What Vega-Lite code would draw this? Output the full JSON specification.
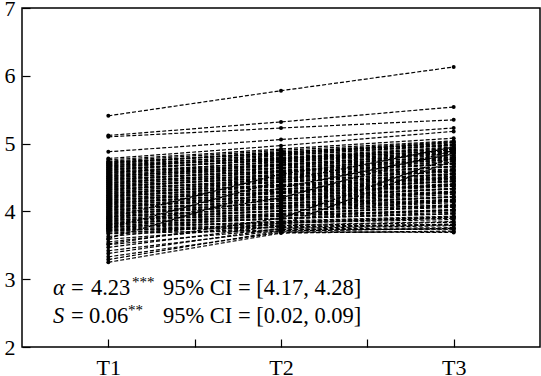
{
"$schema":"https://vega.github.io/schema/vega-lite/v6.json",
"width":518,"height":339,
"autosize":{"type":"none"},
"padding":{"left":22,"top":8,"right":1,"bottom":29},
"background":"white",
"config":{"view":{"stroke":"black","strokeWidth":1.5},"font":"Liberation Serif"},
"datasets":{
"ann":[
{"p":"sym","x":0.6795,"y":2.767,"s":"α"},
{"p":"n","x":0.7838,"y":2.767,"s":"="},
{"p":"n","x":0.8996,"y":2.767,"s":"4.23"},
{"p":"sup","x":1.137,"y":2.89,"s":"***"},
{"p":"n","x":1.3166,"y":2.767,"s":"95% CI = [4.17, 4.28]"},
{"p":"sym","x":0.6795,"y":2.354,"s":"S"},
{"p":"n","x":0.7838,"y":2.354,"s":"="},
{"p":"n","x":0.888,"y":2.354,"s":"0.06"},
{"p":"sup","x":1.114,"y":2.465,"s":"**"},
{"p":"n","x":1.3166,"y":2.354,"s":"95% CI = [0.02, 0.09]"}
],
"d":[
{"i":1,"t":1,"v":5.41},{"i":1,"t":2,"v":5.78},{"i":1,"t":3,"v":6.13},
{"i":2,"t":1,"v":5.12},{"i":2,"t":2,"v":5.32},{"i":2,"t":3,"v":5.54},
{"i":3,"t":1,"v":5.10},{"i":3,"t":2,"v":5.23},{"i":3,"t":3,"v":5.35},
{"i":4,"t":1,"v":4.88},{"i":4,"t":2,"v":5.06},{"i":4,"t":3,"v":5.23},
{"i":5,"t":1,"v":4.78},{"i":5,"t":2,"v":4.97},{"i":5,"t":3,"v":5.18},
{"i":6,"t":1,"v":4.76},{"i":6,"t":2,"v":4.92},{"i":6,"t":3,"v":5.08},
{"i":7,"t":1,"v":4.74},{"i":7,"t":2,"v":4.90},{"i":7,"t":3,"v":5.04},
{"i":8,"t":1,"v":4.72},{"i":8,"t":2,"v":4.86},{"i":8,"t":3,"v":5.01},
{"i":9,"t":1,"v":4.71},{"i":9,"t":2,"v":4.88},{"i":9,"t":3,"v":4.99},
{"i":10,"t":1,"v":4.69},{"i":10,"t":2,"v":4.83},{"i":10,"t":3,"v":4.97},
{"i":11,"t":1,"v":4.67},{"i":11,"t":2,"v":4.84},{"i":11,"t":3,"v":5.02},
{"i":12,"t":1,"v":4.66},{"i":12,"t":2,"v":4.79},{"i":12,"t":3,"v":4.92},
{"i":13,"t":1,"v":4.64},{"i":13,"t":2,"v":4.80},{"i":13,"t":3,"v":4.95},
{"i":14,"t":1,"v":4.62},{"i":14,"t":2,"v":4.76},{"i":14,"t":3,"v":4.90},
{"i":15,"t":1,"v":4.61},{"i":15,"t":2,"v":4.78},{"i":15,"t":3,"v":4.94},
{"i":16,"t":1,"v":4.59},{"i":16,"t":2,"v":4.72},{"i":16,"t":3,"v":4.86},
{"i":17,"t":1,"v":4.57},{"i":17,"t":2,"v":4.73},{"i":17,"t":3,"v":4.88},
{"i":18,"t":1,"v":4.55},{"i":18,"t":2,"v":4.70},{"i":18,"t":3,"v":4.83},
{"i":19,"t":1,"v":4.54},{"i":19,"t":2,"v":4.68},{"i":19,"t":3,"v":4.85},
{"i":20,"t":1,"v":4.52},{"i":20,"t":2,"v":4.67},{"i":20,"t":3,"v":4.80},
{"i":21,"t":1,"v":4.50},{"i":21,"t":2,"v":4.64},{"i":21,"t":3,"v":4.78},
{"i":22,"t":1,"v":4.49},{"i":22,"t":2,"v":4.65},{"i":22,"t":3,"v":4.82},
{"i":23,"t":1,"v":4.47},{"i":23,"t":2,"v":4.60},{"i":23,"t":3,"v":4.74},
{"i":24,"t":1,"v":4.45},{"i":24,"t":2,"v":4.61},{"i":24,"t":3,"v":4.76},
{"i":25,"t":1,"v":4.44},{"i":25,"t":2,"v":4.57},{"i":25,"t":3,"v":4.70},
{"i":26,"t":1,"v":4.42},{"i":26,"t":2,"v":4.58},{"i":26,"t":3,"v":4.73},
{"i":27,"t":1,"v":4.40},{"i":27,"t":2,"v":4.53},{"i":27,"t":3,"v":4.66},
{"i":28,"t":1,"v":4.39},{"i":28,"t":2,"v":4.55},{"i":28,"t":3,"v":4.71},
{"i":29,"t":1,"v":4.37},{"i":29,"t":2,"v":4.50},{"i":29,"t":3,"v":4.63},
{"i":30,"t":1,"v":4.35},{"i":30,"t":2,"v":4.51},{"i":30,"t":3,"v":4.67},
{"i":31,"t":1,"v":4.34},{"i":31,"t":2,"v":4.46},{"i":31,"t":3,"v":4.58},
{"i":32,"t":1,"v":4.32},{"i":32,"t":2,"v":4.47},{"i":32,"t":3,"v":4.62},
{"i":33,"t":1,"v":4.30},{"i":33,"t":2,"v":4.43},{"i":33,"t":3,"v":4.55},
{"i":34,"t":1,"v":4.29},{"i":34,"t":2,"v":4.44},{"i":34,"t":3,"v":4.60},
{"i":35,"t":1,"v":4.27},{"i":35,"t":2,"v":4.39},{"i":35,"t":3,"v":4.52},
{"i":36,"t":1,"v":4.25},{"i":36,"t":2,"v":4.40},{"i":36,"t":3,"v":4.54},
{"i":37,"t":1,"v":4.24},{"i":37,"t":2,"v":4.36},{"i":37,"t":3,"v":4.48},
{"i":38,"t":1,"v":4.22},{"i":38,"t":2,"v":4.37},{"i":38,"t":3,"v":4.51},
{"i":39,"t":1,"v":4.20},{"i":39,"t":2,"v":4.32},{"i":39,"t":3,"v":4.45},
{"i":40,"t":1,"v":4.19},{"i":40,"t":2,"v":4.33},{"i":40,"t":3,"v":4.47},
{"i":41,"t":1,"v":4.17},{"i":41,"t":2,"v":4.29},{"i":41,"t":3,"v":4.41},
{"i":42,"t":1,"v":4.15},{"i":42,"t":2,"v":4.30},{"i":42,"t":3,"v":4.44},
{"i":43,"t":1,"v":4.14},{"i":43,"t":2,"v":4.26},{"i":43,"t":3,"v":4.38},
{"i":44,"t":1,"v":4.12},{"i":44,"t":2,"v":4.27},{"i":44,"t":3,"v":4.40},
{"i":45,"t":1,"v":4.10},{"i":45,"t":2,"v":4.22},{"i":45,"t":3,"v":4.34},
{"i":46,"t":1,"v":4.09},{"i":46,"t":2,"v":4.23},{"i":46,"t":3,"v":4.37},
{"i":47,"t":1,"v":4.07},{"i":47,"t":2,"v":4.19},{"i":47,"t":3,"v":4.30},
{"i":48,"t":1,"v":4.05},{"i":48,"t":2,"v":4.20},{"i":48,"t":3,"v":4.33},
{"i":49,"t":1,"v":4.04},{"i":49,"t":2,"v":4.15},{"i":49,"t":3,"v":4.27},
{"i":50,"t":1,"v":4.02},{"i":50,"t":2,"v":4.16},{"i":50,"t":3,"v":4.29},
{"i":51,"t":1,"v":4.00},{"i":51,"t":2,"v":4.11},{"i":51,"t":3,"v":4.22},
{"i":52,"t":1,"v":3.99},{"i":52,"t":2,"v":4.12},{"i":52,"t":3,"v":4.25},
{"i":53,"t":1,"v":3.97},{"i":53,"t":2,"v":4.08},{"i":53,"t":3,"v":4.18},
{"i":54,"t":1,"v":3.95},{"i":54,"t":2,"v":4.09},{"i":54,"t":3,"v":4.21},
{"i":55,"t":1,"v":3.94},{"i":55,"t":2,"v":4.04},{"i":55,"t":3,"v":4.15},
{"i":56,"t":1,"v":3.92},{"i":56,"t":2,"v":4.05},{"i":56,"t":3,"v":4.17},
{"i":57,"t":1,"v":3.90},{"i":57,"t":2,"v":4.00},{"i":57,"t":3,"v":4.10},
{"i":58,"t":1,"v":3.89},{"i":58,"t":2,"v":4.01},{"i":58,"t":3,"v":4.13},
{"i":59,"t":1,"v":3.87},{"i":59,"t":2,"v":3.97},{"i":59,"t":3,"v":4.06},
{"i":60,"t":1,"v":3.85},{"i":60,"t":2,"v":3.97},{"i":60,"t":3,"v":4.08},
{"i":61,"t":1,"v":3.84},{"i":61,"t":2,"v":3.93},{"i":61,"t":3,"v":4.01},
{"i":62,"t":1,"v":3.82},{"i":62,"t":2,"v":3.93},{"i":62,"t":3,"v":4.03},
{"i":63,"t":1,"v":3.80},{"i":63,"t":2,"v":3.89},{"i":63,"t":3,"v":3.97},
{"i":64,"t":1,"v":3.79},{"i":64,"t":2,"v":3.89},{"i":64,"t":3,"v":3.99},
{"i":65,"t":1,"v":3.77},{"i":65,"t":2,"v":3.85},{"i":65,"t":3,"v":3.92},
{"i":66,"t":1,"v":3.75},{"i":66,"t":2,"v":3.84},{"i":66,"t":3,"v":3.91},
{"i":67,"t":1,"v":3.74},{"i":67,"t":2,"v":3.80},{"i":67,"t":3,"v":3.85},
{"i":68,"t":1,"v":3.72},{"i":68,"t":2,"v":3.76},{"i":68,"t":3,"v":3.80},
{"i":69,"t":1,"v":3.25},{"i":69,"t":2,"v":3.68},{"i":69,"t":3,"v":3.71},
{"i":70,"t":1,"v":3.29},{"i":70,"t":2,"v":3.71},{"i":70,"t":3,"v":3.75},
{"i":71,"t":1,"v":3.33},{"i":71,"t":2,"v":3.69},{"i":71,"t":3,"v":3.70},
{"i":72,"t":1,"v":3.38},{"i":72,"t":2,"v":3.75},{"i":72,"t":3,"v":3.79},
{"i":73,"t":1,"v":3.42},{"i":73,"t":2,"v":3.72},{"i":73,"t":3,"v":3.74},
{"i":74,"t":1,"v":3.47},{"i":74,"t":2,"v":3.79},{"i":74,"t":3,"v":3.84},
{"i":75,"t":1,"v":3.51},{"i":75,"t":2,"v":3.74},{"i":75,"t":3,"v":3.76},
{"i":76,"t":1,"v":3.55},{"i":76,"t":2,"v":3.83},{"i":76,"t":3,"v":3.90},
{"i":77,"t":1,"v":3.59},{"i":77,"t":2,"v":3.78},{"i":77,"t":3,"v":3.81},
{"i":78,"t":1,"v":3.63},{"i":78,"t":2,"v":3.86},{"i":78,"t":3,"v":3.93},
{"i":79,"t":1,"v":3.67},{"i":79,"t":2,"v":3.73},{"i":79,"t":3,"v":3.74},
{"i":80,"t":1,"v":3.70},{"i":80,"t":2,"v":3.70},{"i":80,"t":3,"v":3.69},
{"i":81,"t":1,"v":3.60},{"i":81,"t":2,"v":4.35},{"i":81,"t":3,"v":4.85},
{"i":82,"t":1,"v":3.75},{"i":82,"t":2,"v":4.45},{"i":82,"t":3,"v":4.95},
{"i":83,"t":1,"v":3.52},{"i":83,"t":2,"v":3.90},{"i":83,"t":3,"v":4.80},
{"i":84,"t":1,"v":3.80},{"i":84,"t":2,"v":4.20},{"i":84,"t":3,"v":4.90},
{"i":85,"t":1,"v":3.68},{"i":85,"t":2,"v":3.80},{"i":85,"t":3,"v":4.75},
{"i":86,"t":1,"v":3.90},{"i":86,"t":2,"v":4.55},{"i":86,"t":3,"v":4.92},
{"i":87,"t":1,"v":4.73},{"i":87,"t":2,"v":4.85},{"i":87,"t":3,"v":4.98},
{"i":88,"t":1,"v":4.70},{"i":88,"t":2,"v":4.87},{"i":88,"t":3,"v":5.03},
{"i":89,"t":1,"v":4.68},{"i":89,"t":2,"v":4.78},{"i":89,"t":3,"v":4.89},
{"i":90,"t":1,"v":4.65},{"i":90,"t":2,"v":4.82},{"i":90,"t":3,"v":4.98},
{"i":91,"t":1,"v":4.63},{"i":91,"t":2,"v":4.75},{"i":91,"t":3,"v":4.87},
{"i":92,"t":1,"v":4.60},{"i":92,"t":2,"v":4.77},{"i":92,"t":3,"v":4.93},
{"i":93,"t":1,"v":4.58},{"i":93,"t":2,"v":4.69},{"i":93,"t":3,"v":4.80},
{"i":94,"t":1,"v":4.56},{"i":94,"t":2,"v":4.74},{"i":94,"t":3,"v":4.91},
{"i":95,"t":1,"v":4.53},{"i":95,"t":2,"v":4.64},{"i":95,"t":3,"v":4.76},
{"i":96,"t":1,"v":4.51},{"i":96,"t":2,"v":4.69},{"i":96,"t":3,"v":4.86},
{"i":97,"t":1,"v":4.48},{"i":97,"t":2,"v":4.59},{"i":97,"t":3,"v":4.70},
{"i":98,"t":1,"v":4.46},{"i":98,"t":2,"v":4.63},{"i":98,"t":3,"v":4.79},
{"i":99,"t":1,"v":4.43},{"i":99,"t":2,"v":4.54},{"i":99,"t":3,"v":4.66},
{"i":100,"t":1,"v":4.41},{"i":100,"t":2,"v":4.59},{"i":100,"t":3,"v":4.77},
{"i":101,"t":1,"v":4.38},{"i":101,"t":2,"v":4.49},{"i":101,"t":3,"v":4.60},
{"i":102,"t":1,"v":4.36},{"i":102,"t":2,"v":4.53},{"i":102,"t":3,"v":4.70},
{"i":103,"t":1,"v":4.33},{"i":103,"t":2,"v":4.44},{"i":103,"t":3,"v":4.55},
{"i":104,"t":1,"v":4.31},{"i":104,"t":2,"v":4.49},{"i":104,"t":3,"v":4.66},
{"i":105,"t":1,"v":4.28},{"i":105,"t":2,"v":4.38},{"i":105,"t":3,"v":4.49},
{"i":106,"t":1,"v":4.26},{"i":106,"t":2,"v":4.43},{"i":106,"t":3,"v":4.60},
{"i":107,"t":1,"v":4.23},{"i":107,"t":2,"v":4.33},{"i":107,"t":3,"v":4.44},
{"i":108,"t":1,"v":4.21},{"i":108,"t":2,"v":4.39},{"i":108,"t":3,"v":4.56},
{"i":109,"t":1,"v":4.18},{"i":109,"t":2,"v":4.28},{"i":109,"t":3,"v":4.38},
{"i":110,"t":1,"v":4.16},{"i":110,"t":2,"v":4.33},{"i":110,"t":3,"v":4.50},
{"i":111,"t":1,"v":4.13},{"i":111,"t":2,"v":4.23},{"i":111,"t":3,"v":4.33},
{"i":112,"t":1,"v":4.11},{"i":112,"t":2,"v":4.28},{"i":112,"t":3,"v":4.45},
{"i":113,"t":1,"v":4.08},{"i":113,"t":2,"v":4.18},{"i":113,"t":3,"v":4.28},
{"i":114,"t":1,"v":4.06},{"i":114,"t":2,"v":4.23},{"i":114,"t":3,"v":4.40},
{"i":115,"t":1,"v":4.03},{"i":115,"t":2,"v":4.12},{"i":115,"t":3,"v":4.21},
{"i":116,"t":1,"v":4.01},{"i":116,"t":2,"v":4.18},{"i":116,"t":3,"v":4.34},
{"i":117,"t":1,"v":3.98},{"i":117,"t":2,"v":4.07},{"i":117,"t":3,"v":4.16},
{"i":118,"t":1,"v":3.96},{"i":118,"t":2,"v":4.12},{"i":118,"t":3,"v":4.28},
{"i":119,"t":1,"v":3.93},{"i":119,"t":2,"v":4.01},{"i":119,"t":3,"v":4.09},
{"i":120,"t":1,"v":3.91},{"i":120,"t":2,"v":4.07},{"i":120,"t":3,"v":4.22},
{"i":121,"t":1,"v":3.88},{"i":121,"t":2,"v":3.95},{"i":121,"t":3,"v":4.02},
{"i":122,"t":1,"v":3.86},{"i":122,"t":2,"v":4.01},{"i":122,"t":3,"v":4.15},
{"i":123,"t":1,"v":3.83},{"i":123,"t":2,"v":3.90},{"i":123,"t":3,"v":3.96},
{"i":124,"t":1,"v":3.81},{"i":124,"t":2,"v":3.95},{"i":124,"t":3,"v":4.08},
{"i":125,"t":1,"v":3.78},{"i":125,"t":2,"v":3.83},{"i":125,"t":3,"v":3.88},
{"i":126,"t":1,"v":3.76},{"i":126,"t":2,"v":3.90},{"i":126,"t":3,"v":4.02},
{"i":127,"t":1,"v":3.73},{"i":127,"t":2,"v":3.77},{"i":127,"t":3,"v":3.81},
{"i":128,"t":1,"v":3.71},{"i":128,"t":2,"v":3.82},{"i":128,"t":3,"v":3.92}
]},
"layer":[
{"data":{"name":"d"},
 "mark":{"type":"line","color":"black","strokeWidth":1.2,"strokeDash":[4,2]},
 "encoding":{
  "x":{"field":"t","type":"quantitative","scale":{"domain":[0.5,3.5],"nice":false,"zero":false},
   "axis":{"title":null,"values":[1,1.5,2,2.5,3],"labelExpr":"datum.value==1?'T1':datum.value==2?'T2':datum.value==3?'T3':''","grid":false,"domain":false,"tickSize":-8,"tickColor":"black","tickWidth":1.2,"labelPadding":18,"labelFontSize":22,"labelFont":"Liberation Serif","labelColor":"black","labelFlush":false,"labelOverlap":false}},
  "y":{"field":"v","type":"quantitative","scale":{"domain":[2,7],"nice":false,"zero":false},
   "axis":{"title":null,"values":[2,3,4,5,6,7],"format":"d","grid":false,"domain":false,"tickSize":-8,"tickColor":"black","tickWidth":1.2,"labelPadding":15,"labelFontSize":22,"labelFont":"Liberation Serif","labelColor":"black","labelFlush":false,"labelOverlap":false}},
  "detail":{"field":"i","type":"nominal"}}},
{"data":{"name":"d"},
 "mark":{"type":"circle","color":"black","size":16,"opacity":1},
 "encoding":{"x":{"field":"t","type":"quantitative"},"y":{"field":"v","type":"quantitative"}}},
{"data":{"name":"ann"},"transform":[{"filter":"datum.p=='sym'"}],
 "mark":{"type":"text","align":"left","baseline":"alphabetic","fontSize":22.5,"fontStyle":"italic","font":"Liberation Serif","color":"black"},
 "encoding":{"x":{"field":"x","type":"quantitative"},"y":{"field":"y","type":"quantitative"},"text":{"field":"s"}}},
{"data":{"name":"ann"},"transform":[{"filter":"datum.p=='n'"}],
 "mark":{"type":"text","align":"left","baseline":"alphabetic","fontSize":22.5,"font":"Liberation Serif","color":"black"},
 "encoding":{"x":{"field":"x","type":"quantitative"},"y":{"field":"y","type":"quantitative"},"text":{"field":"s"}}},
{"data":{"name":"ann"},"transform":[{"filter":"datum.p=='sup'"}],
 "mark":{"type":"text","align":"left","baseline":"alphabetic","fontSize":15,"font":"Liberation Serif","color":"black"},
 "encoding":{"x":{"field":"x","type":"quantitative"},"y":{"field":"y","type":"quantitative"},"text":{"field":"s"}}}
]
}
